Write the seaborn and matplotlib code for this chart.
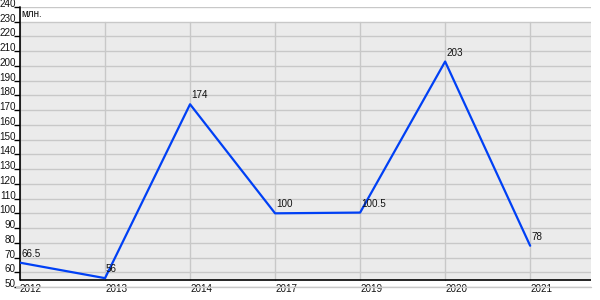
import matplotlib
matplotlib.use("Agg")
import matplotlib.pyplot as plt
import seaborn as sns
import pandas as pd

years = ["2012", "2013", "2014", "2017", "2019", "2020", "2021"]
values = [66.5, 56, 174, 100, 100.5, 203, 78]
value_labels = ["66.5", "56", "174", "100", "100.5", "203", "78"]
y_ticks = list(range(50, 241, 10))
unit_label = "млн."

sns.set_theme(style="white")
plt.rcParams["font.family"] = ["Liberation Sans", "DejaVu Sans"]

W, H = 600, 300
FS = 7.1
TC = "#111111"
fig = plt.figure(figsize=(6, 3), dpi=100)
ax = fig.add_axes([20 / W, 13 / H, 570.7 / W, 280 / H])
ax.set_facecolor("white")

ymin_plot = 54.75
ax.set_ylim(50, 240)
ax.set_xlim(0, 6.712)

# gray plot area
ax.axhspan(ymin_plot, 230, color="#ebebeb", zorder=0, lw=0)
for t in y_ticks:
    ax.axhline(t, color="#c8c8c8", lw=1, zorder=1)
for i in range(len(years)):
    ax.plot([i, i], [ymin_plot, 230], color="#c8c8c8", lw=1, zorder=1)
ax.plot([-0.05, 6.712], [50, 50], color="#c8c8c8", lw=1, zorder=1, clip_on=False)

df = pd.DataFrame({"year": years, "value": values})
sns.lineplot(data=df, x="year", y="value", sort=False, color="#0040f5", lw=1.6, ax=ax, zorder=5)

for i, (v, lab) in enumerate(zip(values, value_labels)):
    ax.annotate(lab, (i, v), xytext=(1, 6), textcoords="offset pixels",
                ha="left", va="baseline", fontsize=FS, color=TC, zorder=6)

for s in ax.spines.values():
    s.set_visible(False)
ax.axhline(ymin_plot, color="black", lw=1.2, zorder=4)
ax.plot([0, 0], [ymin_plot, 240], color="black", lw=1.2, zorder=4, clip_on=False)

ax.set_yticks(y_ticks)
ax.set_yticklabels([str(t) for t in y_ticks])
ax.set_xticks(range(len(years)))
ax.set_xticklabels(years)
ax.tick_params(axis="y", length=4, width=1, color="black", pad=-1.0,
               labelsize=FS, labelcolor=TC, left=True)
ax.tick_params(axis="x", length=0, pad=3.6, labelsize=FS, labelcolor=TC)
plt.setp(ax.get_yticklabels(), va="baseline")
plt.setp(ax.get_xticklabels(), va="baseline", ha="left")
ax.set_xlabel("")
ax.set_ylabel("")

fig.text(21 / W, 1 - 17 / H, unit_label, ha="left", va="baseline", fontsize=FS, color=TC)

fig.savefig("out.png", dpi=100, facecolor="white")
